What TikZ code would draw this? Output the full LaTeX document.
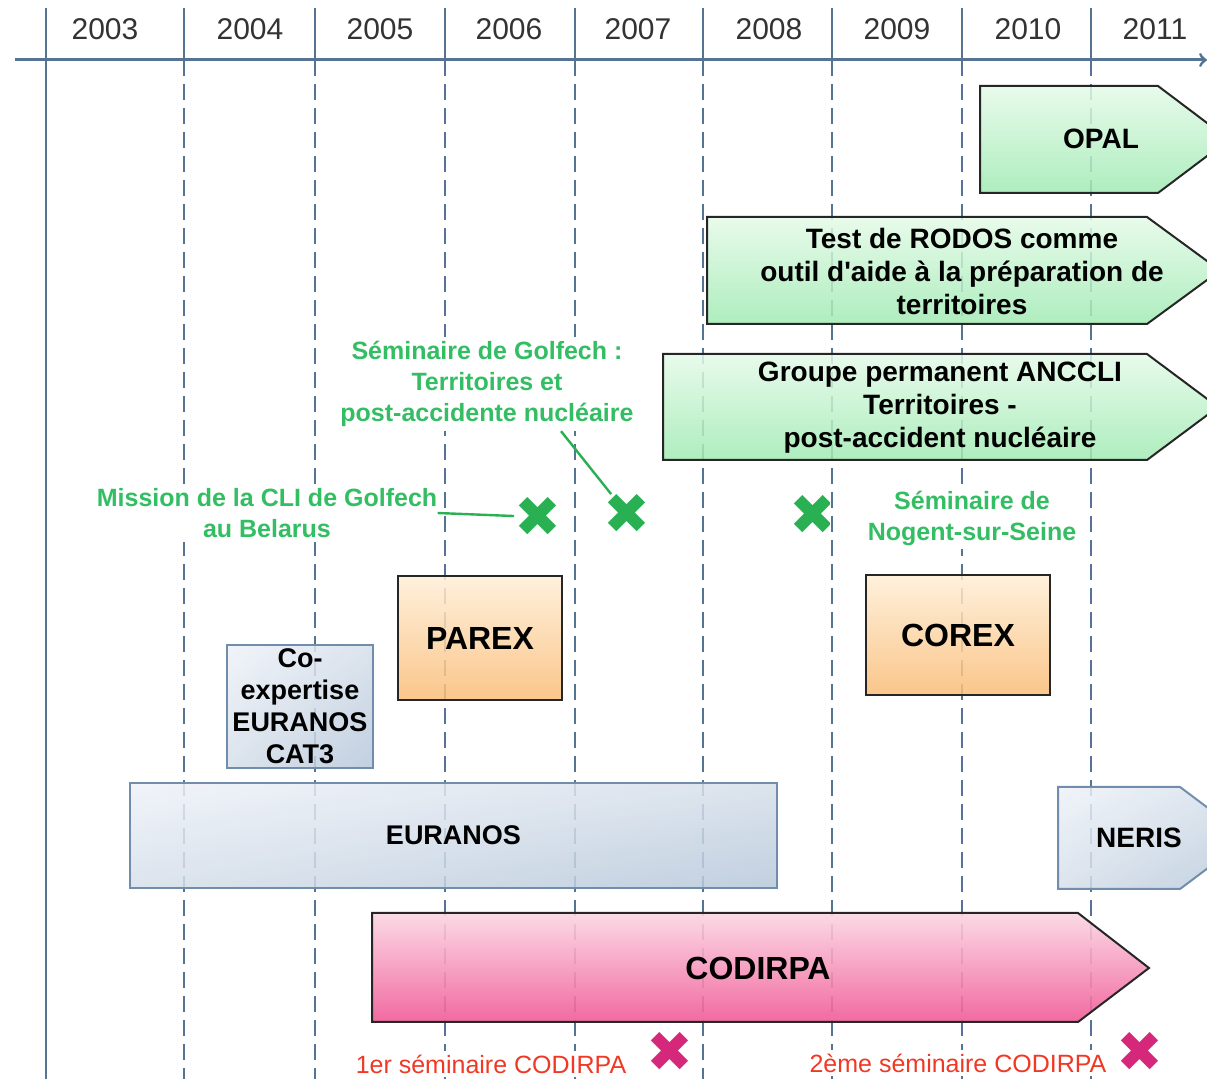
\documentclass[tikz,border=0pt]{standalone}
\usepackage{fontspec}
\setmainfont{Liberation Sans}[Ligatures=TeXOff]
\newfontfamily\dingfont{DejaVu Sans}
\usetikzlibrary{shadings}

\definecolor{gridc}{RGB}{84,116,146}
\definecolor{gtop}{RGB}{228,250,232}
\definecolor{gbot}{RGB}{160,234,178}
\definecolor{otop}{RGB}{255,238,214}
\definecolor{obot}{RGB}{249,188,118}
\definecolor{ptop}{RGB}{251,214,226}
\definecolor{pbot}{RGB}{240,90,150}
\definecolor{btop}{RGB}{238,242,248}
\definecolor{bmid}{RGB}{214,223,234}
\definecolor{bbot}{RGB}{182,199,218}
\definecolor{bline}{RGB}{112,142,172}
\definecolor{glab}{RGB}{52,190,100}
\definecolor{gcr}{RGB}{40,176,82}
\definecolor{mcr}{RGB}{214,40,122}
\definecolor{rlab}{RGB}{240,56,36}

\tikzstyle{yr} = [text=black!80, font=\fontsize{15}{18}\selectfont]
\tikzstyle{tick} = [draw=gridc, line width=1.2pt]
\tikzstyle{dgrid} = [draw=gridc, line width=1pt, dash pattern=on 8pt off 4pt]
\tikzstyle{gbox} = [draw=black!85, line width=1pt, top color=gtop, bottom color=gbot, fill opacity=0.85]
\tikzstyle{pbox} = [draw=black!85, line width=1pt, top color=ptop, bottom color=pbot, fill opacity=0.9]
\tikzstyle{nbox} = [draw=bline, line width=1pt, upper left=btop, lower right=bbot, upper right=bmid, lower left=bmid, fill opacity=0.85]
\tikzstyle{obox} = [rectangle, draw=black!85, line width=1pt, top color=otop, bottom color=obot, fill opacity=0.85, text opacity=1, font=\fontsize{16}{19}\selectfont\bfseries]
\tikzstyle{bbox} = [rectangle, draw=bline, line width=1pt, upper left=btop, lower right=bbot, upper right=bmid, lower left=bmid, fill opacity=0.85, text opacity=1, font=\fontsize{13.5}{16}\selectfont\bfseries, align=center]
\tikzstyle{btxt} = [font=\fontsize{14}{16.5}\selectfont\bfseries, align=center]
\tikzstyle{glabel} = [fill=white, text=glab, font=\fontsize{12.5}{15.5}\selectfont\bfseries, align=center, inner sep=2pt]
\tikzstyle{rlabel} = [fill=white, text=rlab, font=\fontsize{12.5}{15}\selectfont, inner sep=2pt]
\tikzstyle{gcross} = [text=gcr, font=\dingfont\fontsize{28}{28}\selectfont, inner sep=0pt, text depth=0pt]
\tikzstyle{pcross} = [text=mcr, font=\dingfont\fontsize{28}{28}\selectfont, inner sep=0pt, text depth=0pt]
\tikzstyle{gline} = [draw=gcr, line width=1.2pt]

\begin{document}
\begin{tikzpicture}[x=0.5pt, y=-0.5pt]
        \useasboundingbox (0,0) rectangle (1207,1079);
        % time axis
        \draw[tick, line width=1.5pt, ->] (15,60) -- (1207,60);
        \draw[tick] (46,8) -- (46,1079);
        \draw[tick] (184,8) -- (184,60); \draw[dgrid] (184,60) -- (184,1079);
        \draw[tick] (315,8) -- (315,60); \draw[dgrid] (315,60) -- (315,1079);
        \draw[tick] (445,8) -- (445,60); \draw[dgrid] (445,60) -- (445,1079);
        \draw[tick] (575,8) -- (575,60); \draw[dgrid] (575,60) -- (575,1079);
        \draw[tick] (703,8) -- (703,60); \draw[dgrid] (703,60) -- (703,1079);
        \draw[tick] (832,8) -- (832,60); \draw[dgrid] (832,60) -- (832,1079);
        \draw[tick] (962,8) -- (962,60); \draw[dgrid] (962,60) -- (962,1079);
        \draw[tick] (1091,8) -- (1091,60); \draw[dgrid] (1091,60) -- (1091,1079);
        \node[yr] (y2003) at (105,29) {2003};
        \node[yr] (y2004) at (250,29) {2004};
        \node[yr] (y2005) at (380,29) {2005};
        \node[yr] (y2006) at (509,29) {2006};
        \node[yr] (y2007) at (638,29) {2007};
        \node[yr] (y2008) at (769,29) {2008};
        \node[yr] (y2009) at (897,29) {2009};
        \node[yr] (y2010) at (1028,29) {2010};
        \node[yr] (y2011) at (1155,29) {2011};
        % projects
        \path[gbox] (980,86) -- (1158,86) -- (1229,139.5) -- (1158,193) -- (980,193) -- cycle;
        \node[btxt] (opal) at (1101,139) {OPAL};
        \path[gbox] (707,217) -- (1147,217) -- (1220,270.5) -- (1147,324) -- (707,324) -- cycle;
        \node[btxt] (rodos) at (962,271) {Test de RODOS comme\\outil d'aide à la préparation de\\territoires};
        \path[gbox] (663,354) -- (1147,354) -- (1218,407) -- (1147,460) -- (663,460) -- cycle;
        \node[btxt] (anccli) at (940,408) {Groupe permanent ANCCLI\\Territoires -\\post-accident nucléaire};
        \node[obox, minimum width=82pt, minimum height=62pt] (parex) at (480,638) {PAREX};
        \node[obox, minimum width=92pt, minimum height=60pt] (corex) at (958,635) {COREX};
        \node[bbox, minimum width=73pt, minimum height=61.5pt, inner sep=0pt] (coexp) at (300,706.5) {Co-\\expertise\\EURANOS\\CAT3};
        \node[bbox, minimum width=323.5pt, minimum height=52.5pt] (euranos) at (453.5,835.5) {EURANOS};
        \path[nbox] (1058,787) -- (1180,787) -- (1248,838) -- (1180,889) -- (1058,889) -- cycle;
        \node[btxt] (neris) at (1139,838) {NERIS};
        \path[pbox] (372,913) -- (1078,913) -- (1149,968) -- (1078,1022) -- (372,1022) -- cycle;
        \node[btxt, font=\fontsize{16}{19}\selectfont\bfseries] (codirpa) at (758,968) {CODIRPA};
        % events
        \node[glabel] (golfech) at (487,384) {Séminaire de Golfech :\\Territoires et\\post-accidente nucléaire};
        \node[glabel] (mission) at (267,513) {Mission de la CLI de Golfech\\au Belarus};
        \node[glabel] (nogent) at (972,518) {Séminaire de\\Nogent-sur-Seine};
        \node[gcross] (xmission) at (538,517) {✖};
        \node[gcross] (xgolfech) at (627,514) {✖};
        \begin{scope}
        \clip (770,470) rectangle (829,570);
        \node[gcross] (xnogent) at (813,515) {✖};
        \end{scope}
        \draw[gline] ([xshift=-2pt]mission.east) -- (xmission);
        \draw[gline] ([xshift=37pt]golfech.south) -- (xgolfech);
        \node[rlabel] (sem1) at (491,1064) {1er séminaire CODIRPA};
        \node[rlabel] (sem2) at (958,1063) {2ème séminaire CODIRPA};
        \node[pcross] (xsem1) at (670,1052) {✖};
        \node[pcross] (xsem2) at (1140,1052) {✖};
    \end{tikzpicture}
\end{document}
